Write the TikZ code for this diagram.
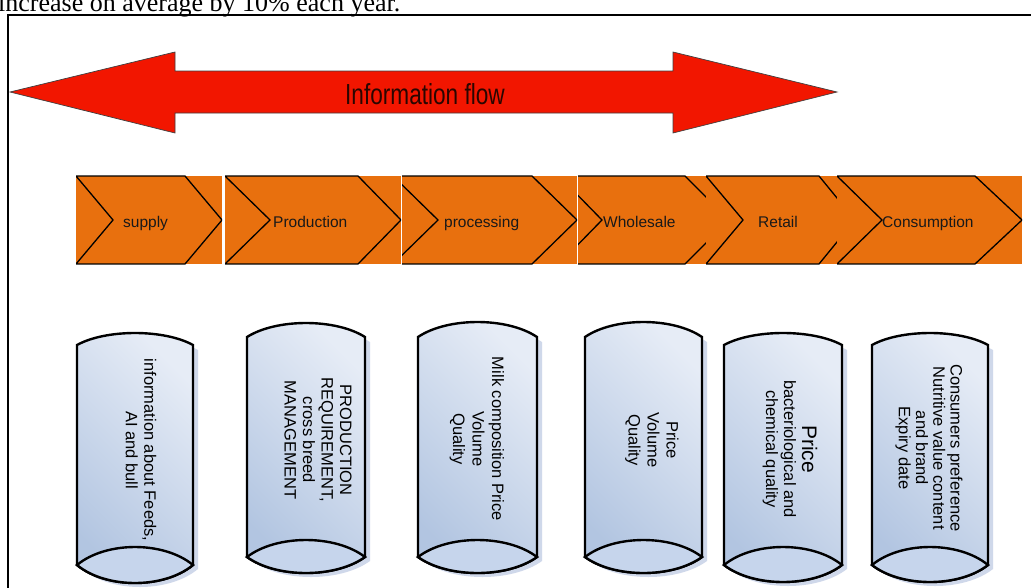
\documentclass[tikz,border=0pt]{standalone}
\usepackage{fontspec}
\setmainfont{Liberation Sans}
\newfontfamily\serifpart{Liberation Serif}
\definecolor{arrowred}{HTML}{F21600}
\definecolor{flowtext}{HTML}{2A0600}
\definecolor{stageorange}{HTML}{E8700E}
\definecolor{cylA}{HTML}{B2C5E1}
\definecolor{cylB}{HTML}{E6ECF6}
\definecolor{cylC}{HTML}{C6D5EC}
\definecolor{cylshadow}{HTML}{A9B8DA}
\tikzset{
  framestyle/.style={line width=2.2pt, black},
  flowarrow/.style={fill=arrowred, draw=black!75, line width=0.7pt},
  stagefill/.style={fill=stageorange},
  stageline/.style={draw=black, line width=1.3pt, line join=miter},
  stagelabel/.style={font=\fontsize{15.5}{17}\selectfont, text=black!90, anchor=base west, inner sep=0pt},
  cylbody/.style={draw=black, line width=2.4pt, bottom color=cylA, top color=cylB, shading angle=-45},
  cyllens/.style={fill=cylC, draw=black, line width=2.4pt},
  cylshade/.style={fill=cylshadow, fill opacity=0.55},
  cyltext/.style={rotate=-90, align=center, font=\fontsize{16.5}{18.5}\selectfont, text=black, inner sep=0pt}
}
% body of a lying drum: x1, x2, top corner y, top rise, bottom corner y, lower drop, upper rise
\newcommand\drumshape[7]{%
  \path[cylshade] ({#1+5},{#3+5}) .. controls ({#1+5+(#2-#1)/4},{#3+5-4*#4/3}) and ({#2+5-(#2-#1)/4},{#3+5-4*#4/3}) .. ({#2+5},{#3+5})
     -- ({#2+5},{#5+4}) .. controls ({#2+5-(#2-#1)/4},{#5+4+4*#6/3}) and ({#1+5+(#2-#1)/4},{#5+4+4*#6/3}) .. ({#1+5},{#5+4}) -- cycle;
  \shade[cylbody] (#1,#3) .. controls ({#1+(#2-#1)/4},{#3-4*#4/3}) and ({#2-(#2-#1)/4},{#3-4*#4/3}) .. (#2,#3)
     -- (#2,#5) .. controls ({#2-(#2-#1)/4},{#5+4*#6/3}) and ({#1+(#2-#1)/4},{#5+4*#6/3}) .. (#1,#5) -- cycle;
  \draw[cyllens] (#1,#5) .. controls ({#1+(#2-#1)/4},{#5-4*#7/3}) and ({#2-(#2-#1)/4},{#5-4*#7/3}) .. (#2,#5)
     .. controls ({#2-(#2-#1)/4},{#5+4*#6/3}) and ({#1+(#2-#1)/4},{#5+4*#6/3}) .. (#1,#5) -- cycle;
}
% chevron: rect L, rect R, chevron left, notch x, top corner x, tip x
\newcommand\stagechevron[6]{%
  \fill[stagefill] (#1,176) rectangle (#2,264);
  \begin{scope}
    \clip (#1,174) rectangle (#2,266);
    \draw[stageline] (#3,176) -- (#5,176) -- (#6,220) -- (#5,264) -- (#3,264) -- (#4,220) -- cycle;
  \end{scope}
}
\begin{document}
\begin{tikzpicture}[x=1pt,y=-1pt]
\useasboundingbox (0,0) rectangle (1031,587);
\clip (0,0) rectangle (1031,587);
\fill[white] (0,0) rectangle (1031,587);

% cut-off line of running text above the figure
\node[anchor=base west, inner sep=0pt, font=\serifpart\fontsize{26}{28}\selectfont] (runtext) at (-2,11) {increase on average by 10\% each year.};

% frame
\draw[framestyle] (8,600) -- (8,15) -- (1045,15);

% information flow arrow
\draw[flowarrow] (10,92) -- (175,52) -- (175,71) -- (673,71) -- (673,52) -- (837,92)
  -- (673,133) -- (673,113) -- (175,113) -- (175,133) -- cycle;
\node[font=\fontsize{29}{30}\selectfont, text=flowtext, inner sep=0pt] (info) at (425,94) {\scalebox{0.78}[1]{Information flow}};

% value chain stages
\stagechevron{76}{222}{76}{113}{185}{222}
\stagechevron{225}{401}{225}{270}{358}{401}
\stagechevron{402}{577}{393}{438}{532}{577}
\stagechevron{578}{706}{559}{602}{685}{729}
\stagechevron{706}{837}{706}{743}{819}{855}
\stagechevron{837}{1022}{837}{882}{975}{1022}
\node[stagelabel] (s1) at (123,227) {supply};
\node[stagelabel] (s2) at (273,227) {Production};
\node[stagelabel] (s3) at (444,227) {processing};
\node[stagelabel] (s4) at (603,227) {Wholesale};
\node[stagelabel] (s5) at (758,227) {Retail};
\node[stagelabel] (s6) at (882,227) {Consumption};

% information drums
\drumshape{77}{193}{345}{12}{565}{18}{18}
\drumshape{247}{365}{337}{14}{557}{16}{17}
\drumshape{418}{537}{337}{15}{557}{16}{17}
\drumshape{585}{702}{337}{15}{557}{16}{17}
\drumshape{724}{842}{345}{12}{565}{17}{18}
\drumshape{872}{988}{345}{12}{565}{17}{18}

\node[cyltext] (c1) at (141,450) {information about Feeds,\\AI and bull};
\node[cyltext] (c2) at (318,440) {PRODUCTION\\REQUIREMENT,\\cross breed\\MANAGEMENT};
\node[cyltext, font=\fontsize{16.5}{19.5}\selectfont] (c3) at (477,439) {Milk composition Price\\Volume\\Quality};
\node[cyltext, font=\fontsize{16.5}{19}\selectfont] (c4) at (652,440) {Price\\Volume\\Quality};
\node[cyltext, font=\fontsize{16.5}{18}\selectfont] (c5) at (790,449) {{\fontsize{21}{22}\selectfont Price}\\bacteriological and\\chemical quality};
\node[cyltext, font=\fontsize{16.5}{17.3}\selectfont] (c6) at (929,448) {Consumers preference\\Nutritive value content\\and brand\\Expiry date};
\end{tikzpicture}
\end{document}
